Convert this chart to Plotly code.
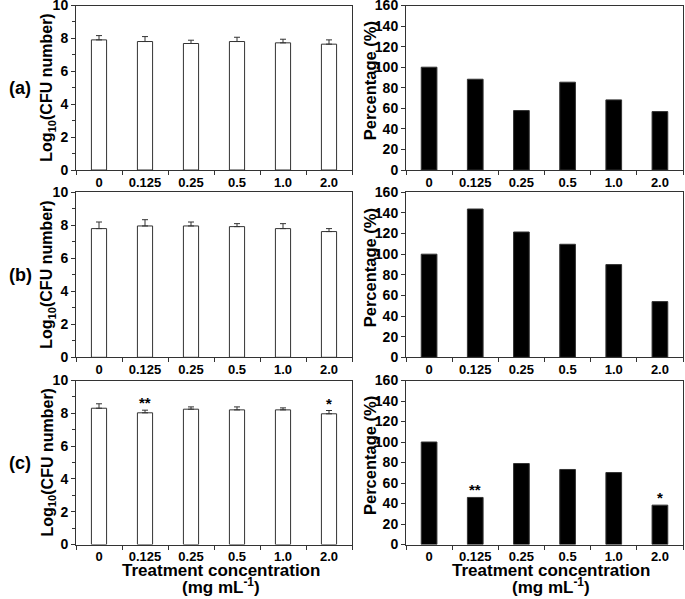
import plotly.graph_objects as go

categories = ["0", "0.125", "0.25", "0.5", "1.0", "2.0"]

log_a = [7.91, 7.81, 7.69, 7.81, 7.73, 7.65]
err_a = [0.26, 0.30, 0.20, 0.26, 0.22, 0.26]
pct_a = [100.0, 88.3, 57.8, 85.4, 68.2, 56.8]

log_b = [7.80, 7.96, 7.96, 7.92, 7.80, 7.62]
err_b = [0.40, 0.38, 0.24, 0.18, 0.30, 0.18]
pct_b = [100.0, 143.8, 121.5, 109.6, 89.9, 54.0]

log_c = [8.31, 8.03, 8.25, 8.21, 8.21, 7.97]
err_c = [0.27, 0.16, 0.14, 0.18, 0.12, 0.20]
pct_c = [100.0, 45.9, 79.0, 73.2, 70.2, 38.4]

stars_c = ["", "**", "", "", "", "*"]

panel_labels = ["(a)", "(b)", "(c)"]
left_title = "Log<sub>10</sub>(CFU number)"
right_title = "Percentage (%)"
x_title = "Treatment concentration"
x_unit = "(mg mL<sup>-1</sup>)"

W, H = 685, 599
FONT = "Liberation Sans, Arial, sans-serif"
AX = "#333333"

rows_px = [(5.5, 170.0), (192.3, 357.3), (380.5, 544.5)]
left_px = (76.0, 352.0)
right_px = (406.0, 683.0)

def px_x(a, b):
    return [a / W, b / W]

def px_y(t, b):
    return [1 - b / H, 1 - t / H]

fig = go.Figure()
layout = dict(
    width=W, height=H,
    margin=dict(l=0, r=0, t=0, b=0, autoexpand=False),
    paper_bgcolor="white", plot_bgcolor="white",
    showlegend=False,
    font=dict(family=FONT, color="black"),
)

data_rows = [(log_a, err_a, pct_a), (log_b, err_b, pct_b), (log_c, err_c, pct_c)]
annotations = []
idx = list(range(len(categories)))

def ann(text, x, y, size, angle=0, xref="paper", yref="paper", yanchor="middle", yshift=0):
    return dict(text=f"<b>{text}</b>", x=x, y=y, xref=xref, yref=yref, showarrow=False,
                xanchor="center", yanchor=yanchor, textangle=angle, yshift=yshift,
                font=dict(size=size, family=FONT, color="black"))

for r, (lg, er, pc) in enumerate(data_rows):
    li = 2 * r + 1
    ri = 2 * r + 2
    lx = "x" if li == 1 else f"x{li}"
    ly = "y" if li == 1 else f"y{li}"
    rx = f"x{ri}"
    ry = f"y{ri}"
    fig.add_trace(go.Bar(
        x=idx, y=lg, xaxis=lx, yaxis=ly, width=0.33,
        marker=dict(color="white", line=dict(color=AX, width=1)),
        error_y=dict(type="data", symmetric=False, array=er,
                     arrayminus=[0] * len(er), color=AX, thickness=1, width=3),
        hoverinfo="skip",
    ))
    fig.add_trace(go.Bar(
        x=idx, y=pc, xaxis=rx, yaxis=ry, width=0.34,
        marker=dict(color="black", line=dict(color=AX, width=1)),
        hoverinfo="skip",
    ))
    yd = px_y(*rows_px[r])
    common_x = dict(
        type="linear", range=[-0.5, 5.5], tickmode="array",
        tickvals=idx, ticktext=categories,
        showline=True, linecolor=AX, linewidth=1, mirror=True,
        ticks="", showgrid=False, zeroline=False, automargin=False,
        ticklabeloverflow="allow",
        tickfont=dict(family=FONT, size=13, color="black", weight="bold"),
        minor=dict(tickmode="array", tickvals=[i - 0.5 for i in idx] + [5.5],
                   ticks="outside", ticklen=4, tickcolor=AX, showgrid=False),
    )
    common_y = dict(
        showline=True, linecolor=AX, linewidth=1, mirror=True,
        ticks="outside", ticklen=4, tickcolor=AX, automargin=False,
        ticklabeloverflow="allow",
        tickfont=dict(family=FONT, size=14, color="black", weight="bold"),
        showgrid=False, zeroline=False,
    )
    xl_name = "xaxis" if li == 1 else f"xaxis{li}"
    yl_name = "yaxis" if li == 1 else f"yaxis{li}"
    layout[xl_name] = dict(common_x, domain=px_x(*left_px), anchor=ly)
    layout[yl_name] = dict(common_y, domain=yd, anchor=lx, range=[0, 10], dtick=2,
                           minor=dict(dtick=1, ticks="outside", ticklen=3, tickcolor=AX))
    layout[f"xaxis{ri}"] = dict(common_x, domain=px_x(*right_px), anchor=ry)
    layout[f"yaxis{ri}"] = dict(common_y, domain=yd, anchor=rx, range=[0, 160], dtick=20)

    mid_px = (rows_px[r][0] + rows_px[r][1]) / 2
    mid_y = 1 - mid_px / H
    annotations.append(ann(panel_labels[r], 20 / W, mid_y, 18))
    annotations.append(ann(left_title, 48 / W, mid_y, 16, angle=-90))
    annotations.append(ann(right_title, 370 / W, 1 - (mid_px - 6.5) / H, 16.5, angle=-90))

for i, s in enumerate(stars_c):
    if s:
        annotations.append(ann(s, i, log_c[i] + err_c[i], 15, xref="x5", yref="y5",
                               yanchor="bottom", yshift=-3))
        annotations.append(ann(s, i, pct_c[i], 15, xref="x6", yref="y6",
                               yanchor="bottom", yshift=-3))

for cx in (221.0, 551.0):
    annotations.append(ann(x_title, cx / W, 1 - 570 / H, 17))
    annotations.append(ann(x_unit, cx / W, 1 - 599 / H, 17, yanchor="bottom"))

layout["annotations"] = annotations
fig.update_layout(**layout)
fig.write_html("out.html", config={"displayModeBar": False},
               post_script="document.body.style.margin='0';document.body.style.overflow='hidden';")
